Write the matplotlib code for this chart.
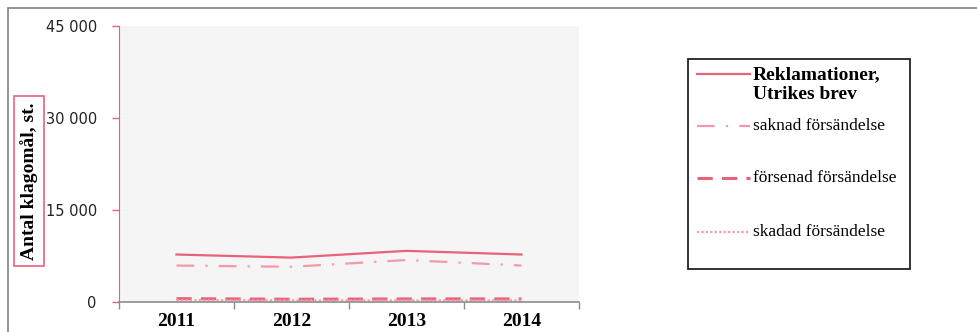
import matplotlib.pyplot as plt
from matplotlib.patches import Rectangle
from matplotlib.lines import Line2D

# Klagomål per år, utrikes brev
years = ["2011", "2012", "2013", "2014"]
total = [7700, 7200, 8300, 7700]
saknad = [5900, 5700, 6800, 5900]
forsenad = [500, 400, 450, 450]
skadad = [250, 200, 200, 200]
yticks = [0, 15000, 30000, 45000]
labels = ["Reklamationer,\nUtrikes brev", "saknad försändelse",
          "försenad försändelse", "skadad försändelse"]

pink = "#e8637a"
light_pink = "#f29aaa"
styles = [
    dict(color=pink, lw=1.6, linestyle="-"),
    dict(color=light_pink, lw=1.6, dashes=(8, 5, 1, 5)),
    dict(color=pink, lw=2.2, dashes=(5, 3)),
    dict(color=light_pink, lw=1.6, dashes=(1, 1)),
]

W, H = 978, 332
fig = plt.figure(figsize=(W / 100, H / 100), dpi=100)

# outer frame
fig.patches.append(Rectangle((8 / W, -0.5), 2, 1.5 - 8 / H, transform=fig.transFigure,
                             fill=False, edgecolor="#8c8c8c", lw=1.3))

ax = fig.add_axes([119 / W, 1 - 301.7 / H, 460 / W, (301.7 - 26) / H])
ax.set_facecolor("#f5f5f5")

x = list(range(len(years)))
for series, st in zip([total, saknad, forsenad, skadad], styles):
    ax.plot(x, series, **st)

ax.set_xlim(-0.5, len(years) - 0.5)
ax.set_ylim(0, 45000)
ax.set_xticks([i - 0.5 for i in range(len(years) + 1)])
ax.set_xticklabels([])
ax.set_xticks(x, minor=True)
ax.set_xticklabels(years, minor=True, fontfamily="Liberation Serif",
                   fontweight="bold", fontsize=14)
ax.tick_params(axis="x", which="major", length=5, color="#8c8c8c", width=1)
ax.tick_params(axis="x", which="minor", length=0, pad=8)
ax.set_yticks(yticks)
ax.set_yticklabels([f"{v:,}".replace(",", " ") for v in yticks],
                   fontfamily="DejaVu Sans", fontsize=10.5, color="#222222")
ax.tick_params(axis="y", length=5, color=pink, width=1, pad=11)

for side in ["top", "right"]:
    ax.spines[side].set_visible(False)
ax.spines["left"].set_color(pink)
ax.spines["bottom"].set_color("#8c8c8c")
ax.spines["bottom"].set_linewidth(1.2)

fig.text(29 / W, 1 - 181 / H, "Antal klagomål, st.", rotation=90, ha="center", va="center",
         fontfamily="Liberation Serif", fontweight="bold", fontsize=14,
         bbox=dict(boxstyle="square,pad=0.3", facecolor="white", edgecolor=pink, lw=1.2))

# legend box, drawn by hand
fig.patches.append(Rectangle((688 / W, 1 - 269 / H), 222 / W, 210 / H, transform=fig.transFigure,
                             fill=False, edgecolor="#222222", lw=1.3))
entry_y = [74, 126, 178, 232]
text_y = [84.5, 126, 178, 232]
for i, (lab, st) in enumerate(zip(labels, styles)):
    yy = 1 - entry_y[i] / H
    fig.lines.append(Line2D([697 / W, 750 / W], [yy, yy], transform=fig.transFigure, **st))
    fig.text(753 / W, 1 - text_y[i] / H, lab, ha="left", va="center",
             fontfamily="Liberation Serif", fontsize=14 if i == 0 else 12.5,
             fontweight="bold" if i == 0 else "normal", linespacing=1.25)

fig.savefig("out.png", dpi=100)
